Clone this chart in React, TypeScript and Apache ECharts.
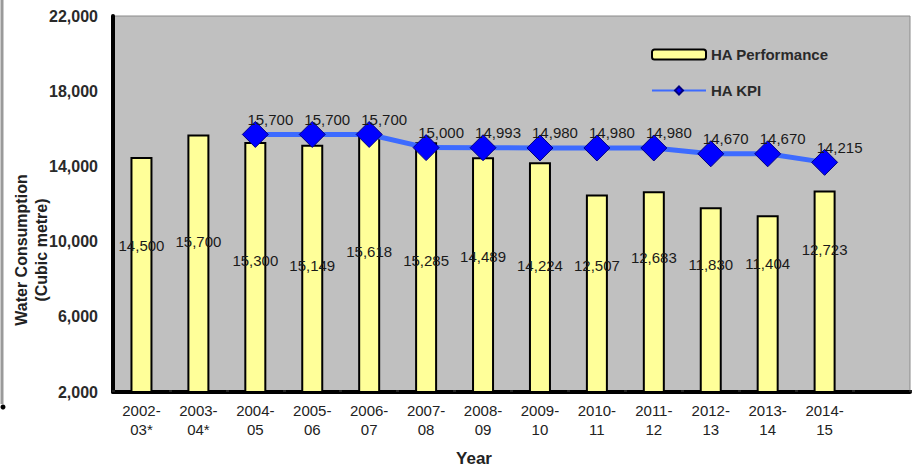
import React, { useEffect, useRef } from "react";
import * as echarts from "echarts";

const categories = [
  "2002-\n03*", "2003-\n04*", "2004-\n05", "2005-\n06", "2006-\n07", "2007-\n08",
  "2008-\n09", "2009-\n10", "2010-\n11", "2011-\n12", "2012-\n13", "2013-\n14", "2014-\n15",
];
const performance = [14500, 15700, 15300, 15149, 15618, 15285, 14489, 14224, 12507, 12683, 11830, 11404, 12723];
const kpi: (number | null)[] = [null, null, 15700, 15700, 15700, 15000, 14993, 14980, 14980, 14980, 14670, 14670, 14215];
const yTicks = { min: 2000, max: 22000, interval: 4000 };

// label placement (pixels above the plot bottom), style only
const barLabelLift = [148, 152, 133, 128, 142, 133, 137, 128, 128, 136, 129, 130, 144];

const FONT = "'Liberation Sans', Arial, sans-serif";

export default function App() {
  const ref = useRef<HTMLDivElement>(null);
  useEffect(() => {
    if (!ref.current) return;
    const chart = echarts.init(ref.current, undefined, { renderer: "svg" });
    const fmt = (v: number) => v.toLocaleString("en-US");
    chart.setOption({
      animation: false,
      backgroundColor: "#ffffff",
      textStyle: { fontFamily: FONT },
      grid: {
        left: 113, right: 2, top: 16, bottom: 74,
        show: true, backgroundColor: "#c0c0c0", borderColor: "#8a8a8a", borderWidth: 1,
      },
      legend: {
        orient: "vertical", left: 646, top: 42, itemGap: 21, itemWidth: 54, itemHeight: 10,
        textStyle: { fontFamily: FONT, fontSize: 15, fontWeight: "bold", color: "#2a2a2a" },
        data: ["HA Performance", "HA KPI"],
      },
      xAxis: {
        type: "category",
        data: [...categories, ""],
        boundaryGap: true,
        axisLine: { lineStyle: { color: "#000", width: 4 } },
        axisTick: { show: true, inside: true, length: 2, lineStyle: { color: "#222", width: 3 } },
        axisLabel: { interval: 0, fontFamily: FONT, fontSize: 15, color: "#222", lineHeight: 19, margin: 9 },
        splitLine: { show: false },
      },
      yAxis: {
        type: "value",
        min: yTicks.min, max: yTicks.max, interval: yTicks.interval,
        axisLine: { show: true, lineStyle: { color: "#000", width: 4 } },
        axisTick: { show: false },
        axisLabel: {
          fontFamily: FONT, fontSize: 16, fontWeight: "bold", color: "#2a2a2a", margin: 15,
          formatter: (v: number) => fmt(v),
        },
        splitLine: { show: false },
      },
      series: [
        {
          name: "HA Performance",
          type: "bar",
          barWidth: 22,
          itemStyle: { color: "#ffff99", borderColor: "#000", borderWidth: 2 },
          label: {
            show: true, position: "insideBottom", fontFamily: FONT, fontSize: 15, color: "#1a1a1a",
            formatter: (p: any) => fmt(p.value),
          },
          data: performance.map((v, i) => ({ value: v, label: { distance: barLabelLift[i] - 8 } })),
          z: 2,
        },
        {
          name: "HA KPI",
          type: "line",
          data: kpi,
          symbol: "diamond",
          symbolSize: 26,
          lineStyle: { color: "#3d6bff", width: 5 },
          itemStyle: { color: "#0000ff", borderColor: "#000080", borderWidth: 1 },
          label: {
            show: true, position: "top", distance: 0, offset: [15, 6],
            fontFamily: FONT, fontSize: 15, color: "#1a1a1a",
            formatter: (p: any) => fmt(p.value),
          },
          z: 3,
        },
      ],
      graphic: [
        { type: "line", shape: { x1: 2, y1: 0, x2: 2, y2: 404 }, style: { stroke: "#9a9a9a", lineWidth: 3 } },
        { type: "circle", shape: { cx: 3, cy: 407, r: 2.5 }, style: { fill: "#000" } },
        {
          type: "text", x: 31, y: 250, rotation: Math.PI / 2,
          style: {
            text: "Water Consumption\n(Cubic metre)", font: `bold 16px ${FONT}`, fill: "#222",
            textAlign: "center", textVerticalAlign: "middle", lineHeight: 20,
          },
        },
        {
          type: "text", x: 474, y: 458,
          style: { text: "Year", font: `bold 17px ${FONT}`, fill: "#222", textAlign: "center", textVerticalAlign: "middle" },
        },
      ],
    });
    return () => chart.dispose();
  }, []);
  return <div ref={ref} style={{ position: "fixed", left: 0, top: 0, width: 912, height: 466 }} />;
}
